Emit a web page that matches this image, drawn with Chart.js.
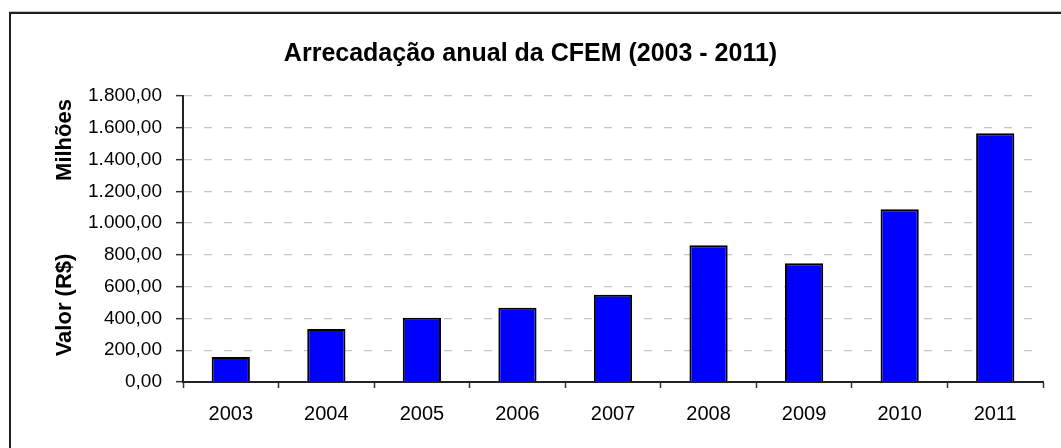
<!DOCTYPE html>
<html>
<head>
<meta charset="utf-8">
<script src="https://cdn.jsdelivr.net/npm/chart.js@4/dist/chart.umd.min.js"></script>
<style>
  html, body { margin: 0; padding: 0; background: #fff; overflow: hidden; }
  #wrap { position: relative; width: 1061px; height: 448px; }
  #frame {
    position: absolute; left: 9px; top: 12px; width: 1200px; height: 600px;
    border: 2px solid #1e1e1e; box-shadow: 0 -1px 0 #c8c8c8;
  }
  canvas { position: absolute; left: 0; top: 0; }
</style>
</head>
<body>
<div id="wrap">
  <div id="frame"></div>
  <canvas id="cfemChart" width="1061" height="448"></canvas>
</div>
<script>
// CFEM annual collection, R$ millions
const years = ['2003', '2004', '2005', '2006', '2007', '2008', '2009', '2010', '2011'];
const valores = [158, 334, 404, 467, 549, 861, 747, 1088, 1565];
const yTicks = [0, 200, 400, 600, 800, 1000, 1200, 1400, 1600, 1800];

const FONT = "'Liberation Sans', Arial, sans-serif";

// 1800 -> "1.800,00"
function formatBR(v) {
  const parts = v.toFixed(2).split('.');
  const inteiro = parts[0].replace(/\B(?=(\d{3})+(?!\d))/g, '.');
  return inteiro + ',' + parts[1];
}

// rotated axis captions on the left side
const axisCaptions = {
  id: 'axisCaptions',
  afterDraw(chart) {
    const { ctx, chartArea } = chart;
    ctx.save();
    ctx.fillStyle = '#000';
    ctx.font = 'bold 22px ' + FONT;
    ctx.textAlign = 'center';
    ctx.textBaseline = 'middle';
    const captions = [
      { text: 'Milhões', y: chartArea.top + 44 },
      { text: 'Valor (R$)', y: chartArea.top + 209 }
    ];
    captions.forEach(c => {
      ctx.save();
      ctx.translate(65, c.y);
      ctx.rotate(-Math.PI / 2);
      ctx.fillText(c.text, 0, 0);
      ctx.restore();
    });
    ctx.restore();
  }
};

const ctx = document.getElementById('cfemChart').getContext('2d');
const cfemChart = new Chart(ctx, {
  type: 'bar',
  data: {
    labels: years,
    datasets: [{
      label: 'CFEM',
      data: valores,
      backgroundColor: '#0000ff',
      borderColor: '#000000',
      borderWidth: 2,
      barPercentage: 0.4,
      categoryPercentage: 1.0
    }]
  },
  options: {
    responsive: false,
    animation: false,
    layout: { padding: { top: 39, right: 18, bottom: 0, left: 18 } },
    plugins: {
      legend: { display: false },
      tooltip: { enabled: false },
      title: {
        display: true,
        text: 'Arrecadação anual da CFEM (2003 - 2011)',
        color: '#000',
        font: { family: FONT, size: 25, weight: 'bold', lineHeight: 1.2 },
        padding: { top: 0, bottom: 27 }
      }
    },
    scales: {
      x: {
        offset: true,
        grid: {
          offset: true,
          drawOnChartArea: false,
          drawTicks: true,
          tickLength: 6,
          tickColor: '#333',
          tickWidth: 1.5
        },
        border: { color: '#222', width: 2 },
        ticks: {
          color: '#000',
          padding: 14,
          font: { family: FONT, size: 20 },
          maxRotation: 0
        },
        afterFit(scale) { scale.height = 66; }
      },
      y: {
        min: 0,
        max: 1800,
        afterBuildTicks(scale) {
          scale.ticks = yTicks.map(v => ({ value: v }));
        },
        grid: {
          color: '#c4c4c4',
          lineWidth: 1.3,
          tickColor: '#333',
          tickLength: 7,
          tickWidth: 1.5,
          tickBorderDash: []
        },
        border: { color: '#222', width: 2, dash: [8, 12] },
        ticks: {
          color: '#000',
          padding: 14,
          font: { family: FONT, size: 19 },
          callback: v => formatBR(v)
        },
        afterFit(scale) { scale.width = 165; }
      }
    }
  },
  plugins: [axisCaptions]
});
</script>
</body>
</html>
